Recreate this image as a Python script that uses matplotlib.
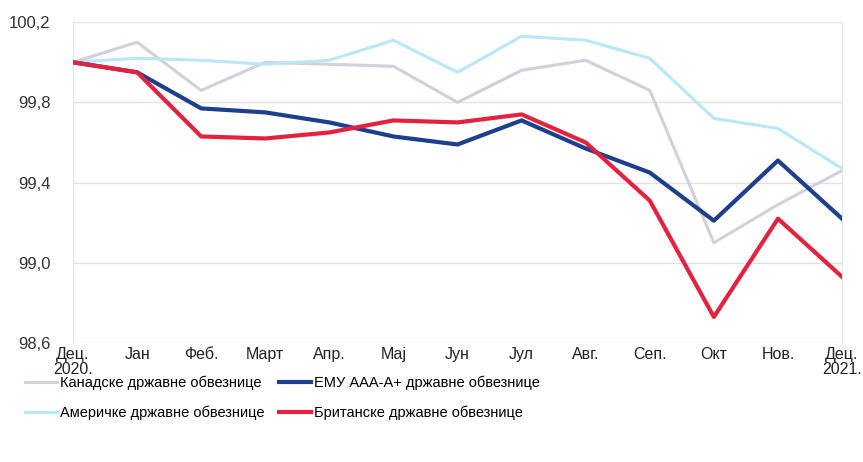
import matplotlib.pyplot as plt

plt.rcParams['font.family'] = ['Liberation Sans', 'DejaVu Sans']

months = ["Дец.\n2020.", "Јан", "Феб.", "Март", "Апр.", "Мај", "Јун", "Јул", "Авг.", "Сеп.", "Окт", "Нов.", "Дец.\n2021."]

# indices (Dec 2020 = 100)
canada = [100.0, 100.1, 99.86, 100.0, 99.99, 99.98, 99.8, 99.96, 100.01, 99.86, 99.1, 99.29, 99.46]
usa = [100.0, 100.02, 100.01, 99.99, 100.01, 100.11, 99.95, 100.13, 100.11, 100.02, 99.72, 99.67, 99.47]
emu = [100.0, 99.95, 99.77, 99.75, 99.7, 99.63, 99.59, 99.71, 99.57, 99.45, 99.21, 99.51, 99.22]
uk = [100.0, 99.95, 99.63, 99.62, 99.65, 99.71, 99.70, 99.74, 99.6, 99.31, 98.73, 99.22, 98.93]

yticks = [98.6, 99.0, 99.4, 99.8, 100.2]

fig = plt.figure(figsize=(8.63, 4.62), dpi=100)
ax = fig.add_axes([0.0846, 0.2576, 0.8911, 0.6944])

x = range(len(months))
l1, = ax.plot(x, canada, color='#d3cfdc', lw=2.2, label='Канадске државне обвезнице', zorder=2)
l2, = ax.plot(x, usa, color='#b8e8f7', lw=2.2, label='Америчке државне обвезнице', zorder=2)
l3, = ax.plot(x, emu, color='#1e3f8c', lw=3.0, label='ЕМУ ААА-А+ државне обвезнице', zorder=3)
l4, = ax.plot(x, uk, color='#e3223f', lw=3.0, label='Британске државне обвезнице', zorder=4)

ax.set_xlim(0, len(months) - 1)
ax.set_ylim(98.6, 100.2)
ax.set_yticks(yticks)
ax.set_yticklabels([f"{v:.1f}".replace('.', ',') for v in yticks], fontsize=12, color='#333333')
ax.set_xticks(list(x))
ax.set_xticklabels(months, fontsize=11.5, color='#222222', linespacing=1.0)
ax.tick_params(length=0)
ax.tick_params(axis='y', pad=16)
ax.tick_params(axis='x', pad=3)
ax.grid(axis='y', color='#e2e2e2', lw=1)
for s in ['top', 'bottom']:
    ax.spines[s].set_visible(False)
for s in ['left', 'right']:
    ax.spines[s].set_color('#e6e6e6')

fig.legend(handles=[l1, l2, l3, l4], loc='upper left', bbox_to_anchor=(0.029, 0.186), ncol=2,
           frameon=False, fontsize=10.5, handlelength=2.2, handletextpad=0.2,
           columnspacing=1.0, labelspacing=1.05, borderpad=0, borderaxespad=0)

fig.savefig('out.png', dpi=100)
